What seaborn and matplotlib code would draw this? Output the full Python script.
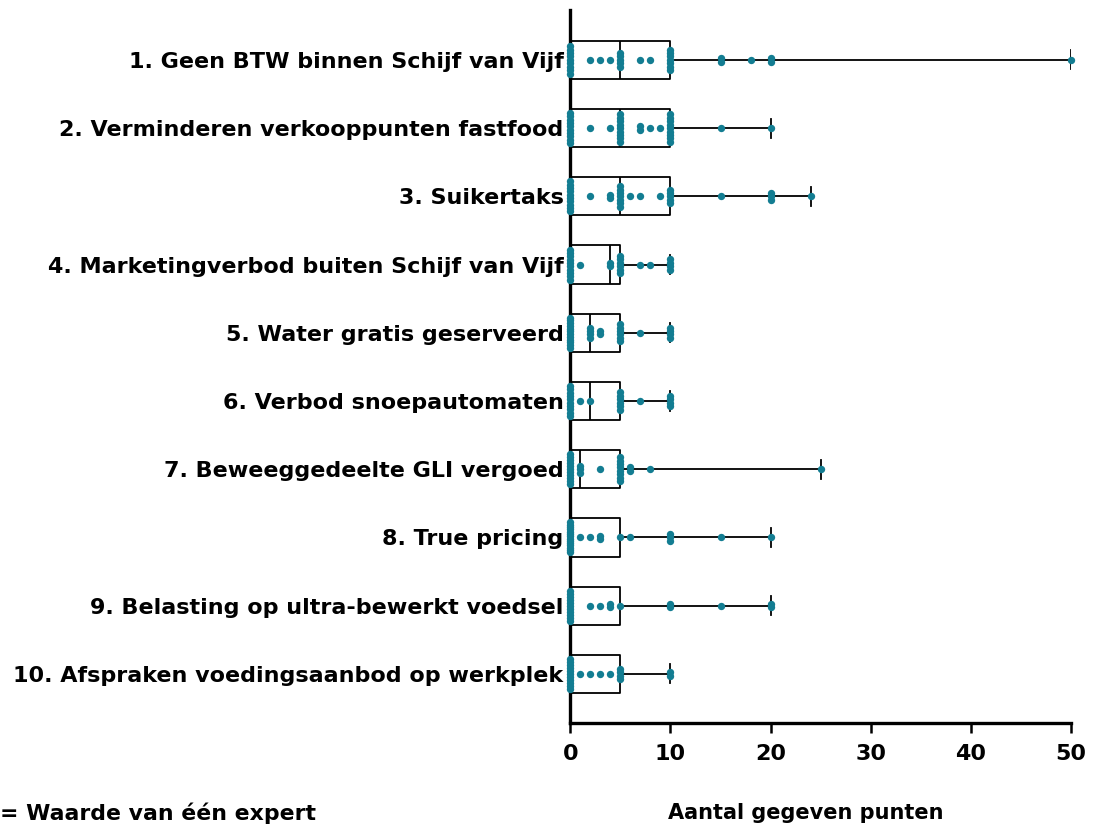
import matplotlib
matplotlib.use("Agg")
import numpy as np
import pandas as pd
import matplotlib.pyplot as plt
import seaborn as sns

# maatregelen, van boven naar beneden
maatregelen = [
    "1. Geen BTW binnen Schijf van Vijf",
    "2. Verminderen verkooppunten fastfood",
    "3. Suikertaks",
    "4. Marketingverbod buiten Schijf van Vijf",
    "5. Water gratis geserveerd",
    "6. Verbod snoepautomaten",
    "7. Beweeggedeelte GLI vergoed",
    "8. True pricing",
    "9. Belasting op ultra-bewerkt voedsel",
    "10. Afspraken voedingsaanbod op werkplek",
]

# punten per expert
punten_1 = [0, 0, 0, 0, 0, 0, 0, 0, 0, 2, 3, 4, 5, 5, 5, 5, 5, 7, 8,
            10, 10, 10, 10, 10, 10, 10, 15, 15, 18, 20, 20, 50]
punten_2 = [0, 0, 0, 0, 0, 0, 0, 0, 0, 0, 2, 4, 5, 5, 5, 5, 5, 5, 5, 5, 5,
            7, 7, 8, 9, 10, 10, 10, 10, 10, 10, 10, 10, 10, 15, 20]
punten_3 = [0, 0, 0, 0, 0, 0, 0, 0, 0, 0, 2, 4, 4, 5, 5, 5, 5, 5, 5, 5,
            6, 7, 9, 10, 10, 10, 10, 10, 15, 20, 20, 20, 24]
punten_4 = [0, 0, 0, 0, 0, 0, 0, 0, 0, 0, 1, 4, 4, 5, 5, 5, 5, 5, 5,
            7, 8, 10, 10, 10, 10]
punten_5 = [0, 0, 0, 0, 0, 0, 0, 0, 0, 0, 0, 0, 2, 2, 2, 2, 3, 3,
            5, 5, 5, 5, 5, 5, 7, 10, 10, 10, 10]
punten_6 = [0, 0, 0, 0, 0, 0, 0, 0, 0, 0, 1, 2, 5, 5, 5, 5, 5, 5,
            7, 10, 10, 10, 10]
punten_7 = [0, 0, 0, 0, 0, 0, 0, 0, 0, 0, 0, 1, 1, 1, 3,
            5, 5, 5, 5, 5, 5, 5, 5, 6, 6, 8, 25]
punten_8 = [0, 0, 0, 0, 0, 0, 0, 0, 0, 0, 0, 0, 0, 0, 1, 2, 3, 3,
            5, 6, 10, 10, 10, 15, 20]
punten_9 = [0, 0, 0, 0, 0, 0, 0, 0, 0, 0, 0, 2, 3, 4, 4, 5, 10, 10, 15, 20, 20]
punten_10 = [0, 0, 0, 0, 0, 0, 0, 0, 0, 0, 0, 1, 2, 3, 4, 5, 5, 5, 5, 10, 10]

alle_punten = [punten_1, punten_2, punten_3, punten_4, punten_5,
               punten_6, punten_7, punten_8, punten_9, punten_10]

x_ticks = [0, 10, 20, 30, 40, 50]

TEAL = "#137d92"

rows = []
for rij, waarden in enumerate(alle_punten):
    for w in waarden:
        rows.append({"rij": rij, "maatregel": maatregelen[rij], "punten": w})
df = pd.DataFrame(rows)

# gelijke waarden verticaal opstapelen (zoals in de originele dotplot)
df["n"] = df.groupby(["rij", "punten"])["punten"].transform("size")
df["k"] = df.groupby(["rij", "punten"]).cumcount()
stap = np.minimum(0.05, 0.44 / np.maximum(df["n"] - 1, 1))
df["y"] = df["rij"] + (df["k"] - (df["n"] - 1) / 2) * stap

plt.rcParams["font.family"] = "DejaVu Sans"
plt.rcParams["font.weight"] = "bold"

fig = plt.figure(figsize=(10.98, 8.27), dpi=100)
ax = fig.add_axes([0.5195, 0.1258, 0.4557, 0.862])

sns.boxplot(data=df, x="punten", y="rij", orient="h", native_scale=True,
            whis=(0, 100), fill=False, color="black", width=0.56,
            linewidth=1.3, showfliers=False, ax=ax)

sns.scatterplot(data=df, x="punten", y="y", color=TEAL, s=28, linewidth=0,
                zorder=5, clip_on=False, legend=False, ax=ax)

ax.set_xlim(0, 50)
ax.set_ylim(9.72, -0.73)
ax.set_xticks(x_ticks)
ax.set_yticks(range(len(maatregelen)))
ax.set_yticklabels(maatregelen)
ax.tick_params(axis="y", length=0, pad=5, labelsize=16)
ax.tick_params(axis="x", length=7, width=1.8, pad=8, labelsize=16)
for lab in ax.get_xticklabels() + ax.get_yticklabels():
    lab.set_fontweight("bold")

sns.despine(ax=ax)
for side in ["left", "bottom"]:
    ax.spines[side].set_linewidth(2.4)
    ax.spines[side].set_color("black")

ax.set_ylabel("")
ax.set_xlabel("Aantal gegeven punten", fontsize=15, fontweight="bold")
ax.xaxis.set_label_coords(0.471, -0.112)

fig.text(0.0, 0.0085, "= Waarde van één expert", fontsize=15.8,
         fontweight="bold", ha="left", va="baseline")

fig.savefig("out.png", dpi=100)
